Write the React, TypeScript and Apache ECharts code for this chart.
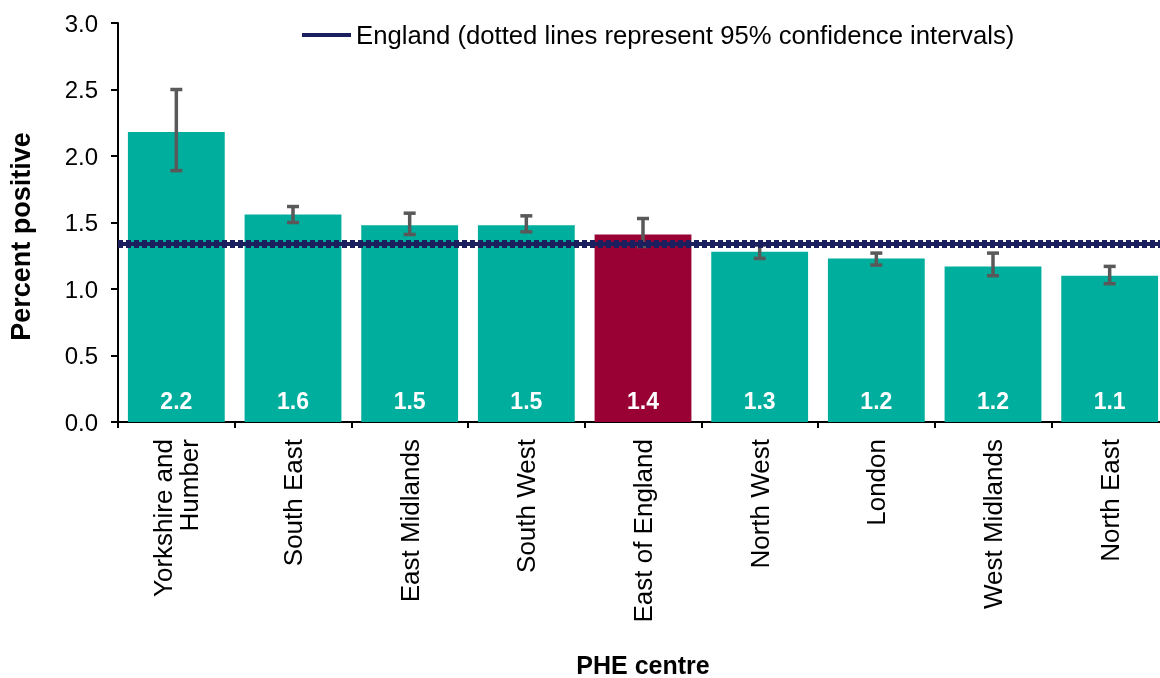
import React, { useEffect, useRef } from "react";
import * as echarts from "echarts";

const categories = [
  "Yorkshire and\nHumber",
  "South East",
  "East Midlands",
  "South West",
  "East of England",
  "North West",
  "London",
  "West Midlands",
  "North East",
];
const values = [2.18, 1.56, 1.48, 1.48, 1.41, 1.28, 1.23, 1.17, 1.1];
const labelValues = ["2.2", "1.6", "1.5", "1.5", "1.4", "1.3", "1.2", "1.2", "1.1"];
const ciLow = [1.89, 1.5, 1.41, 1.43, 1.32, 1.23, 1.18, 1.1, 1.04];
const ciHigh = [2.5, 1.62, 1.57, 1.55, 1.53, 1.33, 1.27, 1.27, 1.17];
const highlightIndex = 4;
const england = 1.34;
const englandLow = 1.32;
const englandHigh = 1.36;
const legendName = "England (dotted lines represent 95% confidence intervals)";

const TEAL = "#00AE9D";
const CRIMSON = "#990033";
const NAVY = "#1B1F5E";
const FONT = "Liberation Sans, Arial, sans-serif";

export default function App() {
  const ref = useRef<HTMLDivElement>(null);
  useEffect(() => {
    if (!ref.current) return;
    const chart = echarts.init(ref.current, undefined, { renderer: "svg" });
    chart.setOption({
      animation: false,
      textStyle: { fontFamily: FONT },
      legend: {
        data: [legendName],
        left: 297,
        top: 17,
        icon: "rect",
        itemWidth: 49,
        itemHeight: 4,
        textStyle: { fontSize: 25.7, color: "#000", fontFamily: FONT },
      },
      grid: {
        left: 118,
        right: -8,
        top: 23,
        bottom: 256,
        containLabel: false,
        outerBoundsMode: "none",
      },
      xAxis: {
        type: "category",
        data: categories,
        name: "PHE centre",
        nameLocation: "middle",
        nameGap: 230,
        nameTextStyle: { fontSize: 25, fontWeight: "bold", color: "#000", fontFamily: FONT },
        axisLine: { lineStyle: { color: "#000", width: 2 } },
        axisTick: { show: true, alignWithLabel: false, length: 6, lineStyle: { color: "#000", width: 2 } },
        axisLabel: { rotate: 90, fontSize: 26, color: "#000", margin: 17, fontFamily: FONT, lineHeight: 26 },
      },
      yAxis: {
        type: "value",
        min: 0,
        max: 3,
        interval: 0.5,
        name: "Percent positive",
        nameLocation: "middle",
        nameGap: 84,
        nameTextStyle: {
          fontSize: 27,
          fontWeight: "bold",
          color: "#000",
          fontFamily: FONT,
          padding: [0, 28, 0, 0],
        },
        axisLine: { show: true, lineStyle: { color: "#000", width: 2 } },
        axisTick: { show: true, length: 7, lineStyle: { color: "#000", width: 2 } },
        splitLine: { show: false },
        axisLabel: {
          fontSize: 24,
          color: "#000",
          margin: 20,
          fontFamily: FONT,
          formatter: (v: number) => v.toFixed(1),
        },
      },
      series: [
        {
          type: "bar",
          barCategoryGap: "17%",
          data: values.map((v, i) => ({
            value: v,
            itemStyle: { color: i === highlightIndex ? CRIMSON : TEAL },
          })),
          label: {
            show: true,
            position: "insideBottom",
            distance: 10,
            color: "#fff",
            fontSize: 23,
            fontWeight: "bold",
            fontFamily: FONT,
            formatter: (p: any) => labelValues[p.dataIndex],
          },
          z: 2,
        },
        {
          type: "custom",
          data: categories.map((_, i) => [i, ciLow[i], ciHigh[i]]),
          renderItem: (params: any, api: any) => {
            const x = api.value(0);
            const lo = api.coord([x, api.value(1)]);
            const hi = api.coord([x, api.value(2)]);
            const half = 6;
            const style = { stroke: "#595959", lineWidth: 3.5 };
            return {
              type: "group",
              children: [
                { type: "line", shape: { x1: lo[0], y1: lo[1], x2: hi[0], y2: hi[1] }, style },
                { type: "line", shape: { x1: hi[0] - half, y1: hi[1], x2: hi[0] + half, y2: hi[1] }, style },
                { type: "line", shape: { x1: lo[0] - half, y1: lo[1], x2: lo[0] + half, y2: lo[1] }, style },
              ],
            };
          },
          z: 3,
        },
        {
          type: "line",
          name: legendName,
          data: [],
          color: NAVY,
          lineStyle: { color: NAVY, width: 4 },
          markLine: {
            silent: true,
            symbol: "none",
            label: { show: false },
            data: [
              { yAxis: englandLow, lineStyle: { color: NAVY, width: 2, type: [5, 3] } },
              { yAxis: englandHigh, lineStyle: { color: NAVY, width: 2, type: [5, 3] } },
              { yAxis: england, lineStyle: { color: NAVY, width: 4, type: "solid" } },
            ],
          },
          z: 5,
        },
      ],
    });
    return () => chart.dispose();
  }, []);
  return (
    <div
      ref={ref}
      style={{ position: "fixed", left: 0, top: 0, width: 1160, height: 678, overflow: "hidden" }}
    />
  );
}
